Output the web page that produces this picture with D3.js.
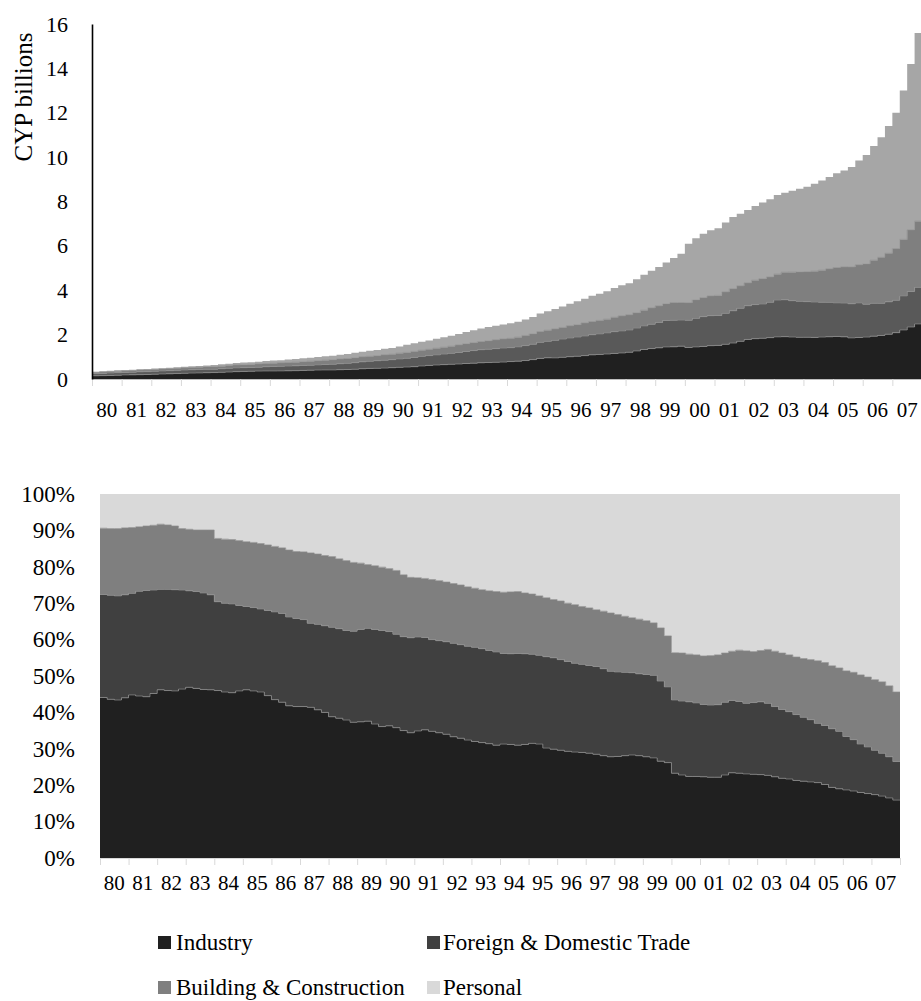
<!DOCTYPE html>
<html>
<head>
<meta charset="utf-8">
<script src="https://cdn.jsdelivr.net/npm/d3@7"></script>
<style>
  body { margin: 0; background: #fff; }
  svg text { font-family: "Liberation Serif", "Times New Roman", serif; fill: #000; }
</style>
</head>
<body>
<svg id="chart" width="921" height="1001"></svg>
<script>
// quarterly observations, 1980 Q1 .. 2007 Q4
const startYear = 1980;
const endYear = 2008;
const yearLabels = ["80","81","82","83","84","85","86","87","88","89","90","91","92","93",
    "94","95","96","97","98","99","00","01","02","03","04","05","06","07"];

const sectors = ["Industry", "Foreign & Domestic Trade", "Building & Construction", "Personal"];

// total loans, CYP billions
const totalBn = [
    0.33, 0.35, 0.37, 0.39, 0.41, 0.42, 0.44, 0.45, 0.47, 0.49, 0.51, 0.53,
    0.55, 0.57, 0.59, 0.61, 0.63, 0.66, 0.69, 0.72, 0.74, 0.76, 0.78, 0.81,
    0.83, 0.85, 0.88, 0.90, 0.93, 0.96, 0.99, 1.02, 1.05, 1.09, 1.13, 1.18,
    1.23, 1.27, 1.31, 1.36, 1.40, 1.47, 1.54, 1.61, 1.68, 1.74, 1.81, 1.88,
    1.95, 2.03, 2.12, 2.20, 2.28, 2.34, 2.40, 2.46, 2.51, 2.58, 2.68, 2.80,
    2.95, 3.05, 3.15, 3.27, 3.39, 3.50, 3.62, 3.75, 3.84, 3.95, 4.10, 4.22,
    4.32, 4.50, 4.70, 4.88, 5.05, 5.25, 5.45, 5.65, 6.10, 6.34, 6.55, 6.70,
    6.79, 7.05, 7.30, 7.45, 7.62, 7.80, 7.95, 8.10, 8.29, 8.40, 8.48, 8.58,
    8.67, 8.80, 8.95, 9.10, 9.27, 9.40, 9.55, 9.85, 10.1, 10.5, 10.9, 11.4,
    12.0, 13.0, 14.2, 15.6
];

// shares of total, %
const industryPct = [
    44.1, 43.6, 43.4, 44.0, 44.8, 44.5, 44.3, 45.2, 46.2, 46.0, 45.9, 46.4,
    46.9, 46.6, 46.3, 46.2, 46.0, 45.6, 45.4, 45.9, 46.2, 45.9, 45.6, 44.6,
    43.5, 42.8, 41.8, 41.6, 41.6, 41.4, 40.7, 40.0, 38.8, 38.4, 37.9, 37.3,
    37.4, 37.6, 36.8, 36.1, 36.3, 35.8, 35.0, 34.4, 34.9, 35.2, 34.8, 34.4,
    34.0, 33.3, 32.9, 32.4, 32.0, 31.7, 31.4, 31.0, 31.3, 31.2, 31.0, 31.2,
    31.5, 31.3, 30.2, 29.9, 29.6, 29.3, 29.1, 29.0, 28.8, 28.5, 28.1, 27.8,
    27.9, 28.1, 28.3, 28.1, 27.8, 27.5, 26.6, 26.2, 23.3, 22.8, 22.4, 22.4,
    22.3, 22.2, 22.2, 22.8, 23.4, 23.3, 23.1, 23.0, 22.9, 22.7, 22.3, 21.9,
    21.7, 21.3, 21.1, 20.9, 20.7, 20.2, 19.4, 19.0, 18.7, 18.4, 18.0, 17.7,
    17.4, 17.0, 16.5, 15.9
];
const tradePct = [
    28.3, 28.6, 28.6, 28.3, 27.9, 28.8, 29.2, 28.4, 27.6, 27.8, 27.8, 27.2,
    26.5, 26.6, 26.5, 26.1, 24.4, 24.4, 24.4, 23.5, 22.9, 22.9, 22.8, 23.4,
    24.1, 24.4, 24.4, 24.2, 23.9, 23.1, 23.5, 23.8, 24.6, 24.6, 24.6, 25.0,
    25.4, 25.5, 26.0, 26.4, 25.9, 25.7, 25.8, 26.1, 25.8, 25.4, 25.2, 25.3,
    25.4, 25.7, 25.7, 25.8, 25.9, 25.8, 25.6, 25.6, 24.9, 24.9, 25.2, 24.9,
    24.5, 24.4, 25.1, 25.1, 24.9, 24.7, 24.4, 24.2, 24.1, 24.1, 23.9, 23.5,
    23.2, 22.9, 22.6, 22.5, 22.6, 22.7, 22.0, 20.8, 20.1, 20.3, 20.5, 20.2,
    19.9, 19.8, 19.9, 20.0, 19.9, 19.7, 19.4, 19.7, 20.0, 19.8, 19.3, 18.9,
    18.5, 18.1, 17.6, 17.1, 16.3, 16.2, 16.1, 15.8, 14.7, 14.1, 13.3, 12.8,
    12.2, 11.8, 11.3, 10.6
];
const buildingPct = [
    18.2, 18.3, 18.5, 18.4, 18.1, 17.7, 17.7, 17.8, 17.9, 17.7, 17.5, 16.9,
    16.9, 16.9, 17.3, 17.8, 17.4, 17.6, 17.7, 17.8, 17.8, 17.9, 18.0, 18.0,
    18.0, 18.0, 18.4, 18.4, 18.6, 19.3, 19.3, 19.3, 19.4, 19.2, 19.2, 18.9,
    18.2, 17.5, 17.5, 17.4, 17.3, 17.5, 17.0, 16.6, 16.3, 16.2, 16.5, 16.5,
    16.4, 16.4, 16.4, 16.3, 16.2, 16.2, 16.4, 16.6, 16.8, 17.0, 17.0, 16.7,
    16.5, 16.3, 16.2, 16.0, 16.1, 16.0, 16.1, 15.9, 15.8, 15.6, 15.8, 16.0,
    15.8, 15.4, 15.1, 15.0, 14.8, 14.4, 14.6, 14.0, 13.0, 13.2, 13.1, 13.2,
    13.3, 13.6, 13.7, 13.5, 13.5, 14.1, 14.4, 14.0, 14.1, 14.8, 15.2, 15.5,
    15.6, 15.8, 16.1, 16.5, 17.2, 17.3, 17.3, 17.4, 18.0, 18.5, 19.0, 19.2,
    19.4, 19.6, 19.5, 19.1
];

const topTicks = [0, 2, 4, 6, 8, 10, 12, 14, 16];
const shareTicks = [0, 10, 20, 30, 40, 50, 60, 70, 80, 90, 100];

const topColors = ["#202020", "#595959", "#7f7f7f", "#a6a6a6"];
const shareColors = ["#202020", "#404040", "#7f7f7f", "#d9d9d9"];

let rows = totalBn.map((tot, i) => {
    let share = [industryPct[i], tradePct[i], buildingPct[i]];
    share.push(100 - share[0] - share[1] - share[2]);
    return { t: startYear + i / 4, share: share, value: share.map((p) => (tot * p) / 100) };
});
// close the last step at the end of the axis
rows.push(Object.assign({}, rows[rows.length - 1], { t: endYear }));

let svg = d3.select("svg#chart");

function drawPanel(cfg) {
    let x = d3.scaleLinear().domain([startYear, endYear]).range(cfg.xRange);
    let y = d3.scaleLinear().domain(cfg.yDomain).range(cfg.yRange);

    let stacked = d3
        .stack()
        .keys([0, 1, 2, 3])
        .value((d, k) => d[cfg.field][k])(rows);

    let g = svg.append("g");

    let area = d3
        .area()
        .curve(d3.curveStepAfter)
        .x((d) => x(d.data.t))
        .y0((d) => y(d[0]))
        .y1((d) => y(d[1]));

    g.selectAll()
        .data(stacked)
        .enter()
        .append("path")
        .attr("d", area)
        .attr("fill", (d, i) => cfg.colors[i]);

    // thin light edges between layers
    let edge = d3
        .line()
        .curve(d3.curveStepAfter)
        .x((d) => x(d.data.t))
        .y((d) => y(d[1]));
    g.selectAll()
        .data(stacked.slice(0, 3))
        .enter()
        .append("path")
        .attr("d", edge)
        .attr("fill", "none")
        .attr("stroke", "#8c8c8c")
        .attr("stroke-width", 0.7);

    // x axis: year ticks, labels between them
    let xAxis = g
        .append("g")
        .attr("transform", `translate(0,${cfg.yRange[0]})`)
        .call(
            d3.axisBottom(x)
                .tickValues(d3.range(startYear, endYear + 1))
                .tickSize(7)
                .tickSizeOuter(0)
                .tickFormat("")
        );
    xAxis.select(".domain").attr("stroke", cfg.xLine);
    xAxis.selectAll(".tick line").attr("stroke", "#d9d9d9");

    g.selectAll()
        .data(yearLabels)
        .enter()
        .append("text")
        .attr("x", (d, i) => x(startYear + i + 0.5))
        .attr("y", cfg.labelY)
        .attr("text-anchor", "middle")
        .style("font-size", "21px")
        .text((d) => d);

    let yAxis = g
        .append("g")
        .attr("transform", `translate(${cfg.xRange[0]},0)`)
        .call(
            d3.axisLeft(y)
                .tickValues(cfg.ticks)
                .tickSize(0)
                .tickPadding(cfg.pad)
                .tickFormat(cfg.fmt)
        );
    yAxis.selectAll("text").style("font-size", cfg.ySize).attr("fill", "#000");
    if (cfg.yLine) {
        yAxis.select(".domain").attr("stroke", "#000").attr("stroke-width", 1.6);
    } else {
        yAxis.select(".domain").remove();
    }
}

drawPanel({
    field: "value",
    xRange: [92, 922],
    yDomain: [0, 16],
    yRange: [379, 24],
    colors: topColors,
    ticks: topTicks,
    fmt: (d) => d,
    pad: 24,
    ySize: "22px",
    yLine: true,
    xLine: "#bfbfbf",
    labelY: 417,
});

svg.append("text")
    .attr("transform", "translate(32,97) rotate(-90)")
    .attr("text-anchor", "middle")
    .style("font-size", "25px")
    .text("CYP billions");

drawPanel({
    field: "share",
    xRange: [100, 900],
    yDomain: [0, 100],
    yRange: [858, 494],
    colors: shareColors,
    ticks: shareTicks,
    fmt: (d) => d + "%",
    pad: 25,
    ySize: "23px",
    yLine: false,
    xLine: "#d9d9d9",
    labelY: 890,
});

// legend, two columns
let legend = svg
    .selectAll(".legend")
    .data(sectors)
    .enter()
    .append("g")
    .classed("legend", true)
    .attr("transform", (d, i) => `translate(${i % 2 ? 427 : 158},${i < 2 ? 936 : 981})`);
legend.append("rect").attr("width", 13).attr("height", 13).attr("fill", (d, i) => shareColors[i]);
legend
    .append("text")
    .attr("x", (d, i) => (i % 2 ? 16 : 18))
    .attr("y", 14)
    .style("font-size", "23px")
    .text((d) => d);
</script>
</body>
</html>
